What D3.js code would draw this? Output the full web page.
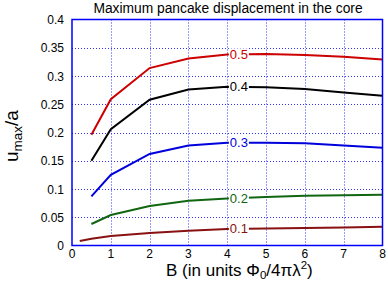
<!DOCTYPE html>
<html>
<head>
<meta charset="utf-8">
<script src="https://cdn.jsdelivr.net/npm/d3@7"></script>
<style>
  body { margin: 0; background: #fff; }
  svg { display: block; font-family: "Liberation Sans", Arial, sans-serif; }
</style>
</head>
<body>
<div id="chart"></div>
<script>
// Data
const bValues = [0.5, 1, 2, 3, 4, 5, 6, 7, 8];
const bValuesLow = [0.2, 0.5, 1, 2, 3, 4, 5, 6, 7, 8];
const curve05 = [0.196, 0.259, 0.314, 0.331, 0.338, 0.339, 0.337, 0.334, 0.329];
const curve04 = [0.150, 0.206, 0.258, 0.276, 0.281, 0.280, 0.277, 0.271, 0.265];
const curve03 = [0.087, 0.125, 0.162, 0.177, 0.182, 0.182, 0.181, 0.177, 0.173];
const curve02 = [0.038, 0.054, 0.070, 0.079, 0.083, 0.086, 0.088, 0.089, 0.090];
const curve01 = [0.008, 0.012, 0.017, 0.022, 0.026, 0.029, 0.030, 0.031, 0.032, 0.033];
const xTicks = [0, 1, 2, 3, 4, 5, 6, 7, 8];
const yTicks = [0, 0.05, 0.1, 0.15, 0.2, 0.25, 0.3, 0.35, 0.4];
const labelB = 4.3;

const series = [
  { name: '0.5', xs: bValues, ys: curve05, color: '#cc0000' },
  { name: '0.4', xs: bValues, ys: curve04, color: '#000000' },
  { name: '0.3', xs: bValues, ys: curve03, color: '#0000dd' },
  { name: '0.2', xs: bValues, ys: curve02, color: '#116611' },
  { name: '0.1', xs: bValuesLow, ys: curve01, color: '#881111' }
];

const width = 388, height = 281;
const margin = { top: 19.5, right: 5.5, bottom: 35.5, left: 72 };

const svg = d3.select('#chart').append('svg')
  .attr('width', width)
  .attr('height', height);

const x = d3.scaleLinear().domain([0, 8]).range([margin.left, width - margin.right]);
const y = d3.scaleLinear().domain([0, 0.4]).range([height - margin.bottom, margin.top]);

// Grid lines
const grid = svg.append('g')
  .attr('stroke', '#3333ff')
  .attr('stroke-width', 1)
  .attr('stroke-dasharray', '1,2');

grid.selectAll('.vgrid')
  .data(xTicks.slice(1, -1))
  .enter().append('line')
  .attr('x1', d => Math.round(x(d)) + 0.5).attr('x2', d => Math.round(x(d)) + 0.5)
  .attr('y1', y(0)).attr('y2', y(0.4));

grid.selectAll('.hgrid')
  .data(yTicks.slice(1, -1))
  .enter().append('line')
  .attr('y1', d => Math.round(y(d)) + 0.5).attr('y2', d => Math.round(y(d)) + 0.5)
  .attr('x1', x(0)).attr('x2', x(8));

// Curves
const line = d3.line().x(d => x(d[0])).y(d => y(d[1]));

series.forEach(s => {
  const pts = s.xs.map((b, i) => [b, s.ys[i]]);
  svg.append('path')
    .datum(pts)
    .attr('d', line)
    .attr('fill', 'none')
    .attr('stroke', s.color)
    .attr('stroke-width', 2);

  // label on curve with white background
  const i = d3.bisector(d => d).left(s.xs, labelB);
  const t = (labelB - s.xs[i - 1]) / (s.xs[i] - s.xs[i - 1]);
  const v = s.ys[i - 1] + t * (s.ys[i] - s.ys[i - 1]);
  const lx = x(labelB), ly = y(v);
  svg.append('rect')
    .attr('x', lx - 10).attr('y', ly - 6)
    .attr('width', 20).attr('height', 12)
    .attr('fill', '#fff');
  svg.append('text')
    .attr('x', lx).attr('y', ly + 4.5)
    .attr('text-anchor', 'middle')
    .attr('font-size', 13)
    .attr('fill', s.color)
    .text(s.name);
});

// Frame
svg.append('rect')
  .attr('x', x(0)).attr('y', y(0.4))
  .attr('width', x(8) - x(0)).attr('height', y(0) - y(0.4))
  .attr('fill', 'none')
  .attr('stroke', '#0000ff')
  .attr('stroke-width', 1.5);

// Tick labels
svg.selectAll('.ytick')
  .data(yTicks)
  .enter().append('text')
  .attr('x', x(0) - 8)
  .attr('y', d => y(d) + 4.5)
  .attr('text-anchor', 'end')
  .attr('font-size', 12)
  .attr('fill', '#000')
  .text(d => d === 0 ? '0' : d3.format('.2~f')(d));

svg.selectAll('.xtick')
  .data(xTicks)
  .enter().append('text')
  .attr('x', d => x(d))
  .attr('y', y(0) + 12)
  .attr('text-anchor', 'middle')
  .attr('font-size', 12)
  .attr('fill', '#000')
  .text(d => d);

// Title
svg.append('text')
  .attr('x', 228).attr('y', 13)
  .attr('text-anchor', 'middle')
  .attr('font-size', 13.8)
  .text('Maximum pancake displacement in the core');

// X axis label
const xl = svg.append('text')
  .attr('x', 166).attr('y', 276)
  .attr('font-size', 17);
xl.append('tspan').text('B (in units \u03A6');
xl.append('tspan').attr('font-size', 11.5).attr('dy', 3).text('0');
xl.append('tspan').attr('dy', -3).text('/4\u03C0\u03BB');
xl.append('tspan').attr('font-size', 11.5).attr('dy', -7).text('2');
xl.append('tspan').attr('dy', 7).text(')');

// Y axis label
const yl = svg.append('text')
  .attr('transform', 'translate(17.5,162) rotate(-90)')
  .attr('font-size', 19);
yl.append('tspan').text('u');
yl.append('tspan').attr('font-size', 13.5).attr('dy', 4).text('max');
yl.append('tspan').attr('dy', -4).text('/a');
</script>
</body>
</html>
